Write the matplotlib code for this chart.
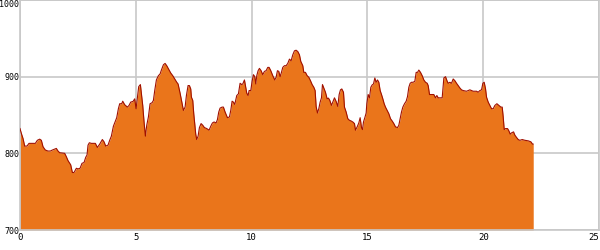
import matplotlib
matplotlib.use('Agg')
import matplotlib.pyplot as plt
import numpy as np

# distance along the route (km) and elevation (m)
dist_km = [
    0.000, 0.058, 0.130, 0.202, 0.302, 0.389, 0.562, 0.662, 0.749, 0.850,
    0.922, 0.994, 1.094, 1.210, 1.310, 1.397, 1.569, 1.641, 1.713, 1.929,
    2.001, 2.073, 2.189, 2.261, 2.333, 2.433, 2.505, 2.592, 2.678, 2.765,
    2.837, 2.894, 2.937, 2.995, 3.081, 3.254, 3.341, 3.441, 3.556, 3.629,
    3.700, 3.801, 3.873, 3.945, 4.032, 4.104, 4.176, 4.248, 4.305, 4.392,
    4.435, 4.521, 4.636, 4.708, 4.780, 4.881, 4.953, 5.011, 5.068, 5.126,
    5.198, 5.241, 5.299, 5.356, 5.414, 5.472, 5.544, 5.616, 5.702, 5.760,
    5.817, 5.889, 5.976, 6.048, 6.105, 6.192, 6.264, 6.336, 6.436, 6.508,
    6.595, 6.681, 6.768, 6.825, 6.912, 6.998, 7.056, 7.128, 7.185, 7.257,
    7.315, 7.372, 7.401, 7.459, 7.502, 7.545, 7.588, 7.631, 7.689, 7.747,
    7.819, 7.891, 7.963, 8.063, 8.164, 8.236, 8.308, 8.380, 8.467, 8.524,
    8.582, 8.639, 8.726, 8.783, 8.855, 8.956, 9.043, 9.100, 9.158, 9.215,
    9.273, 9.359, 9.431, 9.503, 9.575, 9.619, 9.691, 9.734, 9.791, 9.849,
    9.892, 9.964, 10.022, 10.079, 10.137, 10.180, 10.223, 10.281, 10.338, 10.410,
    10.482, 10.554, 10.626, 10.698, 10.756, 10.828, 10.914, 11.001, 11.058, 11.116,
    11.174, 11.231, 11.289, 11.346, 11.418, 11.490, 11.562, 11.634, 11.706, 11.778,
    11.850, 11.922, 11.994, 12.066, 12.124, 12.210, 12.254, 12.326, 12.398, 12.470,
    12.542, 12.614, 12.686, 12.743, 12.786, 12.844, 12.901, 12.959, 13.017, 13.060,
    13.117, 13.189, 13.261, 13.319, 13.377, 13.449, 13.506, 13.578, 13.650, 13.722,
    13.780, 13.837, 13.895, 13.967, 14.010, 14.082, 14.154, 14.226, 14.298, 14.370,
    14.442, 14.485, 14.557, 14.629, 14.687, 14.745, 14.788, 14.831, 14.889, 14.946,
    14.975, 15.033, 15.090, 15.148, 15.205, 15.263, 15.321, 15.378, 15.436, 15.493,
    15.551, 15.609, 15.666, 15.724, 15.781, 15.853, 15.925, 15.997, 16.069, 16.141,
    16.213, 16.300, 16.357, 16.415, 16.472, 16.530, 16.602, 16.674, 16.732, 16.789,
    16.847, 16.904, 16.976, 17.048, 17.106, 17.164, 17.221, 17.293, 17.365, 17.437,
    17.509, 17.581, 17.624, 17.682, 17.768, 17.869, 17.941, 17.999, 18.056, 18.157,
    18.229, 18.301, 18.373, 18.445, 18.488, 18.560, 18.632, 18.704, 18.776, 18.848,
    18.920, 18.992, 19.064, 19.136, 19.280, 19.424, 19.568, 19.712, 19.784, 19.856,
    19.928, 19.986, 20.043, 20.101, 20.144, 20.216, 20.288, 20.360, 20.432, 20.504,
    20.591, 20.677, 20.763, 20.821, 20.864, 20.907, 20.965, 21.051, 21.109, 21.167,
    21.224, 21.310, 21.368, 21.440, 21.512, 21.584, 21.685, 21.800, 21.944, 22.059,
    22.131, 22.160,
]
elev_m = [
    832.3, 826.0, 819.4, 809.5, 809.5, 813.0, 813.0, 813.0, 817.0, 818.5,
    817.0, 808.6, 804.3, 803.0, 803.0, 804.3, 806.4, 803.0, 800.8, 800.0,
    795.6, 790.5, 785.0, 775.0, 775.0, 780.5, 779.7, 780.5, 787.0, 788.0,
    794.8, 797.8, 810.7, 813.8, 813.0, 813.0, 807.7, 812.0, 818.0, 815.0,
    809.5, 810.7, 817.0, 822.4, 835.3, 840.9, 846.5, 858.2, 864.7, 864.7,
    868.0, 863.4, 860.3, 862.5, 866.8, 867.7, 871.1, 858.2, 872.4, 887.0,
    889.7, 877.6, 862.5, 841.0, 822.4, 836.6, 847.4, 864.7, 866.0, 869.0,
    881.9, 895.7, 901.3, 903.5, 908.6, 915.5, 917.3, 914.3, 908.6, 904.8,
    901.3, 897.0, 892.7, 890.5, 878.5, 865.5, 856.0, 860.3, 875.4, 888.4,
    888.4, 884.0, 873.3, 869.0, 851.7, 838.8, 825.0, 818.0, 822.4, 833.6,
    838.8, 836.6, 833.6, 832.3, 830.2, 835.3, 839.6, 840.9, 839.6, 844.0,
    853.9, 859.0, 860.3, 860.3, 853.9, 846.5, 847.4, 856.0, 868.0, 866.8,
    863.8, 875.4, 877.6, 891.4, 889.7, 890.5, 895.7, 888.4, 878.5, 875.4,
    881.9, 881.9, 894.0, 902.6, 900.0, 890.5, 901.3, 907.8, 910.8, 907.8,
    902.6, 906.9, 907.8, 912.1, 912.1, 907.8, 901.3, 895.7, 899.2, 907.8,
    906.9, 900.0, 905.6, 912.1, 914.3, 914.3, 917.3, 922.9, 920.7, 928.5,
    933.7, 934.5, 932.8, 928.5, 919.9, 914.3, 905.6, 905.6, 901.3, 899.2,
    894.8, 889.7, 886.2, 881.9, 861.2, 852.6, 858.2, 866.8, 872.4, 889.7,
    885.3, 879.7, 871.1, 872.0, 869.0, 862.5, 866.8, 872.4, 867.7, 861.2,
    876.7, 882.8, 884.0, 879.7, 860.3, 853.9, 845.2, 843.1, 842.2, 840.9,
    838.8, 830.2, 834.5, 839.6, 846.5, 833.6, 831.0, 840.9, 846.5, 852.6,
    864.7, 876.7, 872.4, 886.2, 889.2, 890.5, 898.3, 892.7, 895.7, 892.7,
    881.9, 876.7, 871.1, 864.7, 860.3, 856.0, 851.7, 845.2, 842.2, 838.8,
    834.5, 833.6, 836.6, 845.2, 853.9, 860.3, 864.7, 868.0, 874.1, 886.2,
    891.4, 892.7, 892.7, 894.0, 905.6, 905.6, 908.6, 905.6, 901.3, 895.7,
    892.7, 891.4, 888.4, 876.7, 876.7, 876.7, 872.4, 875.4, 872.4, 872.4,
    872.4, 898.3, 900.0, 894.0, 891.4, 892.7, 891.4, 897.0, 894.8, 891.4,
    888.4, 885.3, 882.8, 881.9, 881.0, 882.8, 881.0, 881.0, 879.7, 881.9,
    882.8, 891.4, 892.7, 884.0, 873.3, 866.8, 862.5, 858.2, 858.2, 862.5,
    864.7, 862.5, 860.3, 860.3, 847.4, 831.0, 832.3, 832.3, 829.3, 825.0,
    826.7, 828.0, 823.7, 820.7, 818.0, 817.0, 818.0, 817.0, 816.3, 815.0,
    812.0, 812.0,
]

x_ticks = [0, 5, 10, 15, 20, 25]
y_ticks = [700, 800, 900, 1000]

fig = plt.figure(figsize=(6, 2.5), dpi=100)
ax = fig.add_axes([20/600, 20/250, 579/600, 230/250])

ax.set_xlim(0, 25)
ax.set_ylim(700, 1000)
ax.set_xticks(x_ticks)
ax.set_yticks(y_ticks)
ax.grid(True, color='#c8c8c8', linewidth=1.2)
ax.set_axisbelow(True)

x = np.array(dist_km)
y = np.array(elev_m)
ax.fill_between(x, 700, y, color='#ea751b', linewidth=0, zorder=2)
ax.plot(x, y, color='#a01000', linewidth=0.8, zorder=3)

for s in ax.spines.values():
    s.set_color('#c8c8c8')
    s.set_linewidth(1.2)

ax.tick_params(axis='x', length=0, pad=2, labelsize=6.5)
ax.tick_params(axis='y', length=0, pad=0.5, labelsize=6)
for lab in ax.get_xticklabels() + ax.get_yticklabels():
    lab.set_family('DejaVu Sans Mono')
ax.get_yticklabels()[-1].set_va('top')
ax.get_xticklabels()[-1].set_ha('right')

fig.savefig('out.png', dpi=100)
